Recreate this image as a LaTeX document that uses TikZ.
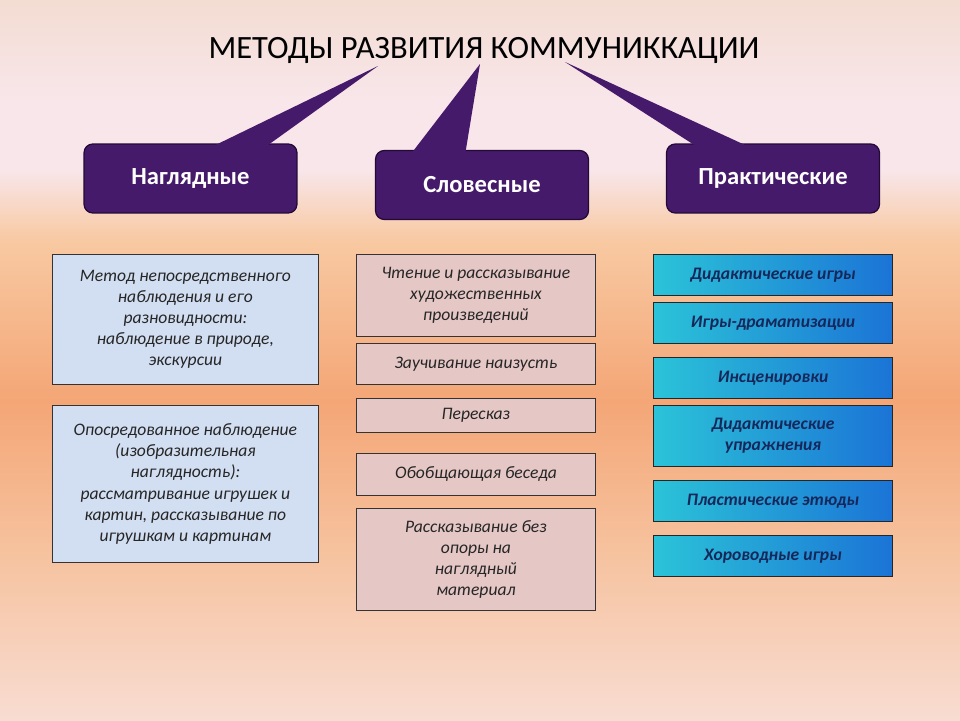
\documentclass[tikz,border=0pt]{standalone}
\usepackage{fontspec}
\setmainfont{Carlito}
\usepackage{xcolor}
\usetikzlibrary{positioning}

\definecolor{bgtop}{HTML}{F3DCD2}
\definecolor{bgpale}{HTML}{F8E6EA}
\definecolor{bgpeach}{HTML}{F8C9A2}
\definecolor{bgorange}{HTML}{F4A676}
\definecolor{bglow}{HTML}{F6C29E}
\definecolor{bgbot}{HTML}{F8DCD2}
\definecolor{purp}{HTML}{461A6A}
\definecolor{purpdark}{HTML}{220A36}
\definecolor{visblue}{HTML}{D2DEF1}
\definecolor{verbpink}{HTML}{E5C7C6}
\definecolor{praccyan}{HTML}{2BC3D8}
\definecolor{pracblue}{HTML}{1B74D6}
\definecolor{pracnavy}{HTML}{16285A}

\pgfdeclareverticalshading{bgshade}{100bp}{color(0bp)=(bgbot); color(25bp)=(bgbot);
  color(36.8bp)=(bglow); color(47.2bp)=(bgorange); color(58.3bp)=(bgpeach);
  color(63.2bp)=(bgpale); color(68bp)=(bgpale); color(75bp)=(bgtop); color(100bp)=(bgtop)}

\begin{document}
\begin{tikzpicture}[x=0.02cm, y=-0.02cm,
  font=\fontsize{10}{12}\selectfont\itshape,
  head/.style={rectangle, rounded corners=5pt, draw=purpdark, line width=0.7pt, fill=purp,
               text=white, font=\fontsize{14}{16}\selectfont\bfseries,
               minimum width=4.26cm, minimum height=1.38cm},
  wedge/.style={fill=purp},
  vis/.style={rectangle, draw=black!80, line width=0.5pt, fill=visblue, text=black!85,
              align=center, anchor=north west, minimum width=5.32cm, inner sep=2pt},
  verb/.style={rectangle, draw=black!80, line width=0.5pt, fill=verbpink, text=black!85,
               align=center, anchor=north west, minimum width=4.78cm, inner sep=2pt},
  prac/.style={rectangle, draw=black!85, line width=0.6pt, left color=praccyan, right color=pracblue,
               text=pracnavy, font=\fontsize{10}{12}\selectfont\bfseries\itshape,
               align=center, anchor=north west, minimum width=4.78cm, inner sep=2pt}]
  \shade[shading=bgshade] (0,0) rectangle (960,720);
  \useasboundingbox (0,0) rectangle (960,720);

  % title and the three groups
  \node (title) at (484,50) {\fontsize{18.5}{21}\selectfont\upshape МЕТОДЫ РАЗВИТИЯ КОММУНИККАЦИИ};
  \node[head] (nagl) at (190.5,178.5) {Наглядные};
  \node[head] (slov) at (482,185) {Словесные};
  \node[head] (prak) at (773,178.5) {Практические};
  \coordinate (tipl) at (378,66);
  \coordinate (tipm) at (480,64);
  \coordinate (tipr) at (565,62);
  \fill[wedge] (tipl) -- ([shift={(0.35cm,-3pt)}]nagl.north) -- ([shift={(1.45cm,-3pt)}]nagl.north) -- cycle;
  \fill[wedge] (tipm) -- ([shift={(-1.44cm,-3pt)}]slov.north) -- ([shift={(-0.34cm,-3pt)}]slov.north) -- cycle;
  \fill[wedge] (tipr) -- ([shift={(-1.46cm,-3pt)}]prak.north) -- ([shift={(-0.4cm,-3pt)}]prak.north) -- cycle;

  % visual methods
  \node[vis, minimum height=2.6cm] (vis1) at (52,254)
    {Метод непосредственного\\наблюдения и его\\разновидности:\\наблюдение в природе,\\экскурсии};
  \node[vis, minimum height=3.14cm] (vis2) at (52,405)
    {Опосредованное наблюдение\\(изобразительная\\наглядность):\\рассматривание игрушек и\\картин, рассказывание по\\игрушкам и картинам};

  % verbal methods
  \node[verb, minimum height=1.64cm] (verb1) at (356,254) {Чтение и рассказывание\\художественных\\произведений};
  \node[verb, minimum height=0.82cm] (verb2) at (356,343) {Заучивание наизусть};
  \node[verb, minimum height=0.68cm] (verb3) at (356,398) {Пересказ};
  \node[verb, minimum height=0.84cm] (verb4) at (356,453) {Обобщающая беседа};
  \node[verb, minimum height=2.04cm] (verb5) at (356,508) {Рассказывание без\\опоры на\\наглядный\\материал};

  % practical methods
  \node[prac, minimum height=0.82cm] (prac1) at (653,254) {Дидактические игры};
  \node[prac, minimum height=0.82cm] (prac2) at (653,302) {Игры-драматизации};
  \node[prac, minimum height=0.82cm] (prac3) at (653,357) {Инсценировки};
  \node[prac, minimum height=1.22cm] (prac4) at (653,405) {Дидактические\\упражнения};
  \node[prac, minimum height=0.82cm] (prac5) at (653,480) {Пластические этюды};
  \node[prac, minimum height=0.82cm] (prac6) at (653,535) {Хороводные игры};
\end{tikzpicture}
\end{document}
